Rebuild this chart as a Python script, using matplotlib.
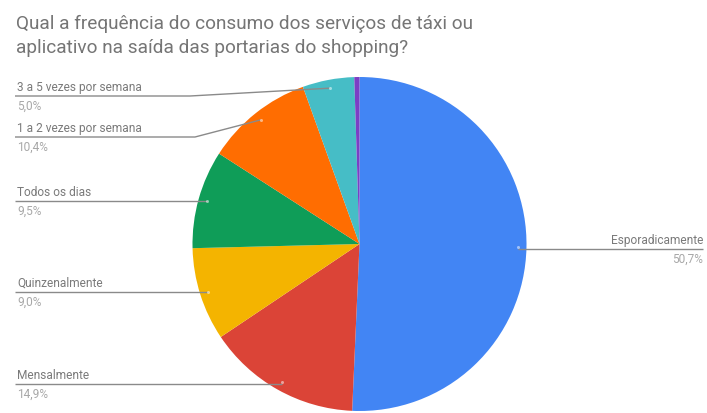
import matplotlib
matplotlib.use("Agg")
import matplotlib.pyplot as plt
import numpy as np

title_lines = ["Qual a frequência do consumo dos serviços de táxi ou",
               "aplicativo na saída das portarias do shopping?"]
categories = ["Esporadicamente", "Mensalmente", "Quinzenalmente", "Todos os dias",
              "1 a 2 vezes por semana", "3 a 5 vezes por semana", "Outros"]
values = [50.7, 14.9, 9.0, 9.5, 10.4, 5.0, 0.5]
colors = ["#4285F4", "#DB4437", "#F4B400", "#0F9D58", "#FF6D01", "#46BDC6", "#7B3FC4"]
show_label = [True, True, True, True, True, True, False]

W, H = 707, 414
fig = plt.figure(figsize=(W / 100, H / 100), dpi=100)
ax = fig.add_axes([0, 0, 1, 1])

cx, cy, r = 359.5, H - 245, 167
wedges, _ = ax.pie(values, colors=colors, startangle=90, counterclock=False,
                   center=(cx, cy), radius=r, frame=True,
                   wedgeprops=dict(linewidth=0))
ax.set_xlim(0, W)
ax.set_ylim(0, H)
ax.set_aspect("equal")
ax.axis("off")

font = "Roboto"
for i, line in enumerate(title_lines):
    ax.text(16, H - (29 + 24 * i), line, fontsize=13.7, color="#757575",
            family=font, va="baseline", ha="left")

# label rows: (text x, line y in px from top, side, elbow x)
label_layout = {
    "Esporadicamente": (703, 250, "right", None),
    "Mensalmente": (15, 385, "left", None),
    "Quinzenalmente": (15, 293, "left", None),
    "Todos os dias": (15, 202, "left", None),
    "1 a 2 vezes por semana": (15, 138, "left", 195),
    "3 a 5 vezes por semana": (15, 97, "left", 190),
}

total = sum(values)
cum = 0.0
line_color = "#8a8a8a"
for cat, v, show in zip(categories, values, show_label):
    mid = (cum + v / 2) / total * 2 * np.pi
    cum += v
    if not show:
        continue
    px = cx + 0.95 * r * np.sin(mid)
    py = cy + 0.95 * r * np.cos(mid)
    tx, ly, side, elbow = label_layout[cat]
    ly = H - ly
    if side == "left":
        if elbow is None:
            xs, ys = [tx, px], [ly, ly]
        else:
            xs, ys = [tx, elbow, px], [ly, ly, py]
        ha = "left"
        txt_x = tx + 2
    else:
        xs, ys = [px, tx], [ly, ly]
        ha = "right"
        txt_x = tx
    ax.plot(xs, ys, color=line_color, lw=1.0, solid_capstyle="butt")
    ax.plot([px], [py], marker="o", ms=2.2, color="white", alpha=0.5, mec="none")
    ax.text(txt_x, ly + 3, cat, fontsize=8.6, color="#7a7a7a",
            family=font, ha=ha, va="bottom")
    pct = f"{v:.1f}%".replace(".", ",")
    ax.text(txt_x, ly - 3, pct, fontsize=8.6, color="#a8a8a8",
            family=font, ha=ha, va="top")

fig.savefig("out.png", dpi=100, facecolor="white")
